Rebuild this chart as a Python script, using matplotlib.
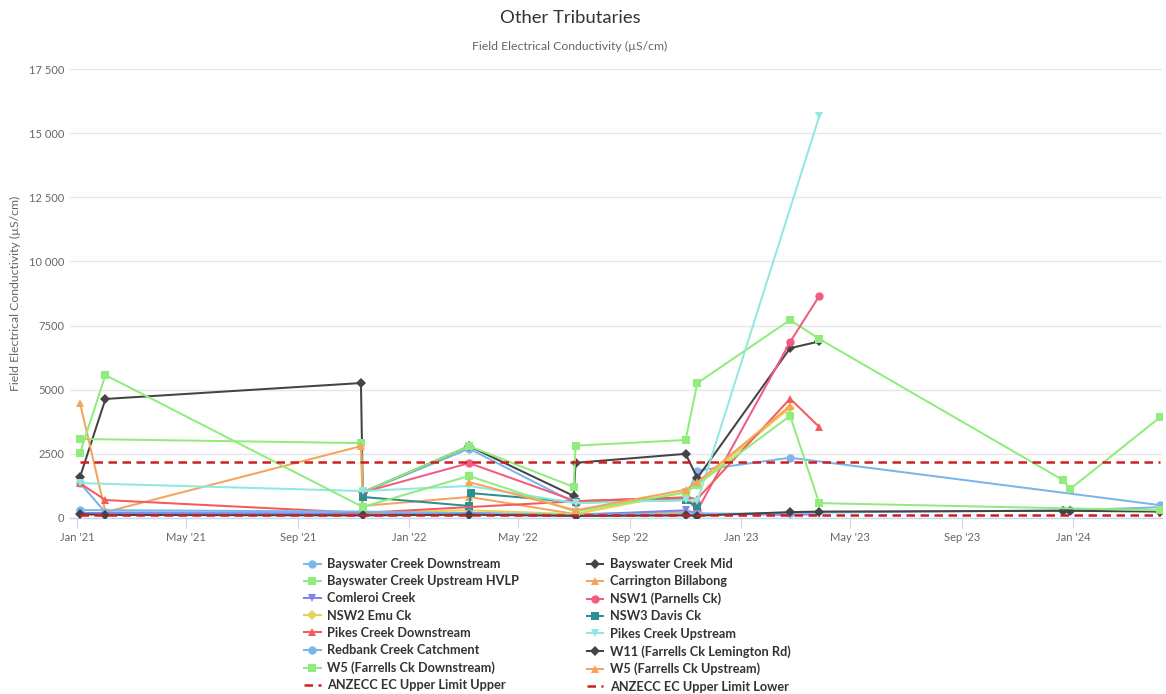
import matplotlib
matplotlib.use("Agg")
import matplotlib.pyplot as plt
import matplotlib.dates as mdates
from matplotlib.ticker import FixedLocator, FuncFormatter
import pandas as pd

# ---------------- data ----------------
series_names = [
    "Bayswater Creek Downstream", "Bayswater Creek Mid",
    "Bayswater Creek Upstream HVLP", "Carrington Billabong",
    "Comleroi Creek", "NSW1 (Parnells Ck)",
    "NSW2 Emu Ck", "NSW3 Davis Ck",
    "Pikes Creek Downstream", "Pikes Creek Upstream",
    "Redbank Creek Catchment", "W11 (Farrells Ck Lemington Rd)",
    "W5 (Farrells Ck Downstream)", "W5 (Farrells Ck Upstream)",
]

bay_down_dates = ["2021-01-04", "2021-02-01", "2021-11-09", "2021-11-11", "2022-03-08", "2022-07-03",
                  "2022-11-01", "2022-11-14", "2023-02-24", "2024-04-06"]
bay_down_vals = [1360, 220, 200, 1000, 2700, 580, 750, 1850, 2350, 500]

bay_mid_dates = ["2021-01-04", "2021-02-01", "2021-11-09", "2021-11-11", "2022-03-08", "2022-07-01",
                 "2022-07-03", "2022-11-01", "2022-11-14", "2023-02-24", "2023-03-28"]
bay_mid_vals = [1600, 4640, 5260, 1000, 2800, 860, 2150, 2500, 1560, 6620, 6880]

bay_up_dates = ["2021-01-04", "2021-11-09", "2021-11-11", "2022-03-08", "2022-07-01", "2022-07-03",
                "2022-11-01", "2022-11-14", "2023-02-24", "2023-03-28", "2023-12-21", "2023-12-29",
                "2024-04-06"]
bay_up_vals = [3080, 2920, 1000, 2800, 1210, 2820, 3040, 5260, 7720, 6980, 1480, 1130, 3930]

carrington_dates = ["2021-01-04", "2021-02-01", "2021-11-09", "2021-11-11", "2022-03-08", "2022-07-03",
                    "2022-11-01"]
carrington_vals = [4480, 230, 2800, 470, 820, 150, 230]

comleroi_dates = ["2021-01-04", "2021-11-11", "2022-03-08", "2022-07-03", "2022-11-01", "2022-11-14",
                  "2023-02-24", "2023-03-28"]
comleroi_vals = [200, 150, 200, 120, 300, 180, 120, 150]

nsw1_dates = ["2021-11-11", "2022-03-08", "2022-07-03", "2022-11-01", "2022-11-14", "2023-02-24",
              "2023-03-28"]
nsw1_vals = [1000, 2140, 660, 800, 300, 6860, 8650]

nsw2_dates = ["2021-11-11", "2022-03-08", "2022-07-03", "2022-11-01", "2022-11-14", "2023-02-24"]
nsw2_vals = [200, 300, 150, 1000, 1300, 4300]

nsw3_dates = ["2021-11-11", "2022-03-08", "2022-03-10", "2022-07-03", "2022-11-01", "2022-11-14"]
nsw3_vals = [820, 470, 970, 620, 700, 450]

pikes_down_dates = ["2021-01-04", "2021-02-01", "2021-11-11", "2022-07-03", "2022-11-01", "2022-11-14",
                    "2023-02-24", "2023-03-28"]
pikes_down_vals = [1350, 700, 200, 650, 800, 750, 4650, 3550]

pikes_up_dates = ["2021-01-04", "2021-11-11", "2022-03-08", "2022-07-03", "2022-11-01", "2022-11-14",
                  "2023-03-28"]
pikes_up_vals = [1360, 1050, 1250, 580, 700, 650, 15650]

redbank_dates = ["2021-01-04", "2021-11-11", "2022-03-08", "2022-07-03", "2022-11-01", "2022-11-14",
                 "2023-02-24", "2023-12-21", "2023-12-29", "2024-04-06"]
redbank_vals = [310, 250, 180, 120, 150, 150, 200, 300, 300, 420]

w11_dates = ["2021-01-04", "2021-02-01", "2021-11-11", "2022-03-08", "2022-07-03", "2022-11-01",
             "2022-11-14", "2023-02-24", "2023-03-28", "2023-12-21", "2023-12-29", "2024-04-06"]
w11_vals = [150, 120, 100, 130, 80, 100, 90, 230, 250, 280, 280, 250]

w5_down_dates = ["2021-01-04", "2021-02-01", "2021-11-11", "2022-03-08", "2022-07-03", "2022-11-01",
                 "2022-11-14", "2023-02-24", "2023-03-28", "2024-04-06"]
w5_down_vals = [2530, 5570, 430, 1640, 250, 1000, 1300, 3980, 580, 300]

w5_up_dates = ["2022-03-08", "2022-07-03", "2022-11-01", "2022-11-14", "2023-02-24"]
w5_up_vals = [1400, 300, 1100, 1400, 4370]

anzecc_dates = ["2021-01-04", "2024-04-06"]
anzecc_upper_vals = [2200, 2200]
anzecc_lower_vals = [125, 125]
anzecc_names = ["ANZECC EC Upper Limit Upper", "ANZECC EC Upper Limit Lower"]

y_ticks = [0, 2500, 5000, 7500, 10000, 12500, 15000, 17500]

# ---------------- style ----------------
plt.rcParams['font.family'] = ['Lato', 'DejaVu Sans']
colors = ['#7cb5ec', '#434348', '#90ed7d', '#f7a35c', '#8085e9', '#f15c80', '#e4d354',
          '#2b908f', '#f45b5b', '#91e8e1', '#7cb5ec', '#434348', '#90ed7d', '#f7a35c']
markers = ['o', 'D', 's', '^', 'v']
msizes = {'o': 6.0, 'D': 4.6, 's': 5.6, '^': 6.2, 'v': 6.2}

all_series = [
    (bay_down_dates, bay_down_vals), (bay_mid_dates, bay_mid_vals),
    (bay_up_dates, bay_up_vals), (carrington_dates, carrington_vals),
    (comleroi_dates, comleroi_vals), (nsw1_dates, nsw1_vals),
    (nsw2_dates, nsw2_vals), (nsw3_dates, nsw3_vals),
    (pikes_down_dates, pikes_down_vals), (pikes_up_dates, pikes_up_vals),
    (redbank_dates, redbank_vals), (w11_dates, w11_vals),
    (w5_down_dates, w5_down_vals), (w5_up_dates, w5_up_vals),
]

W, H = 1166, 694
fig = plt.figure(figsize=(W / 100, H / 100), dpi=100)
ax = fig.add_axes([70 / W, 1 - 518 / H, (1162 - 70) / W, (518 - 69) / H])

handles = []
for i, (name, (d, v)) in enumerate(zip(series_names, all_series)):
    m = markers[i % 5]
    h, = ax.plot(pd.to_datetime(d), v, color=colors[i], lw=1.45, marker=m,
                 markersize=msizes[m], markeredgewidth=0, label=name, zorder=3 + i * 0.01)
    handles.append(h)

anz_color = '#cc2020'
for name, vals in zip(anzecc_names, [anzecc_upper_vals, anzecc_lower_vals]):
    h, = ax.plot(pd.to_datetime(anzecc_dates), vals, color=anz_color, lw=1.8,
                 dashes=(3.4, 2.2), label=name, zorder=4)
    handles.append(h)

# axes formatting
ax.set_xlim(pd.Timestamp("2020-12-24"), pd.Timestamp("2024-04-08"))
ax.set_ylim(0, 17500)
ax.yaxis.set_major_locator(FixedLocator(y_ticks))


def yfmt(v, pos):
    v = int(v)
    if v >= 10000:
        return f"{v:,}".replace(",", " ")
    return str(v)


ax.yaxis.set_major_formatter(FuncFormatter(yfmt))
ax.xaxis.set_major_locator(mdates.MonthLocator(bymonth=[1, 5, 9]))
ax.xaxis.set_major_formatter(mdates.DateFormatter("%b '%y"))

for s in ['top', 'right', 'left']:
    ax.spines[s].set_visible(False)
ax.spines['bottom'].set_color('#ccd6eb')
ax.spines['bottom'].set_linewidth(1)
ax.grid(axis='y', color='#e6e6e6', lw=1)
ax.set_axisbelow(True)
ax.tick_params(axis='y', length=0, labelsize=8, labelcolor='#666666', pad=4)
ax.tick_params(axis='x', length=7, color='#ccd6eb', labelsize=8, labelcolor='#666666', pad=3)

fig.text(570 / W, 1 - 18 / H, "Other Tributaries", ha='center', va='center',
         fontsize=13.3, color='#333333')
fig.text(570 / W, 1 - 46 / H, "Field Electrical Conductivity (µS/cm)", ha='center', va='center',
         fontsize=8.8, color='#666666')
fig.text(15 / W, 1 - 293 / H, "Field Electrical Conductivity (µS/cm)", ha='center', va='center',
         rotation=90, fontsize=8.8, color='#666666')

# legend: row-major ordering like the original (two columns)
order = list(range(0, 16, 2)) + list(range(1, 16, 2))
leg = fig.legend([handles[k] for k in order], [handles[k].get_label() for k in order],
                 ncol=2, loc='upper left', bbox_to_anchor=(304 / W, 1 - 558 / H),
                 frameon=False, prop={'weight': 'bold', 'size': 9.2},
                 handlelength=1.3, handletextpad=0.5, columnspacing=5.3,
                 labelspacing=0.41, borderpad=0, borderaxespad=0)
for t in leg.get_texts():
    t.set_color('#333333')

fig.savefig("out.png", dpi=100)
